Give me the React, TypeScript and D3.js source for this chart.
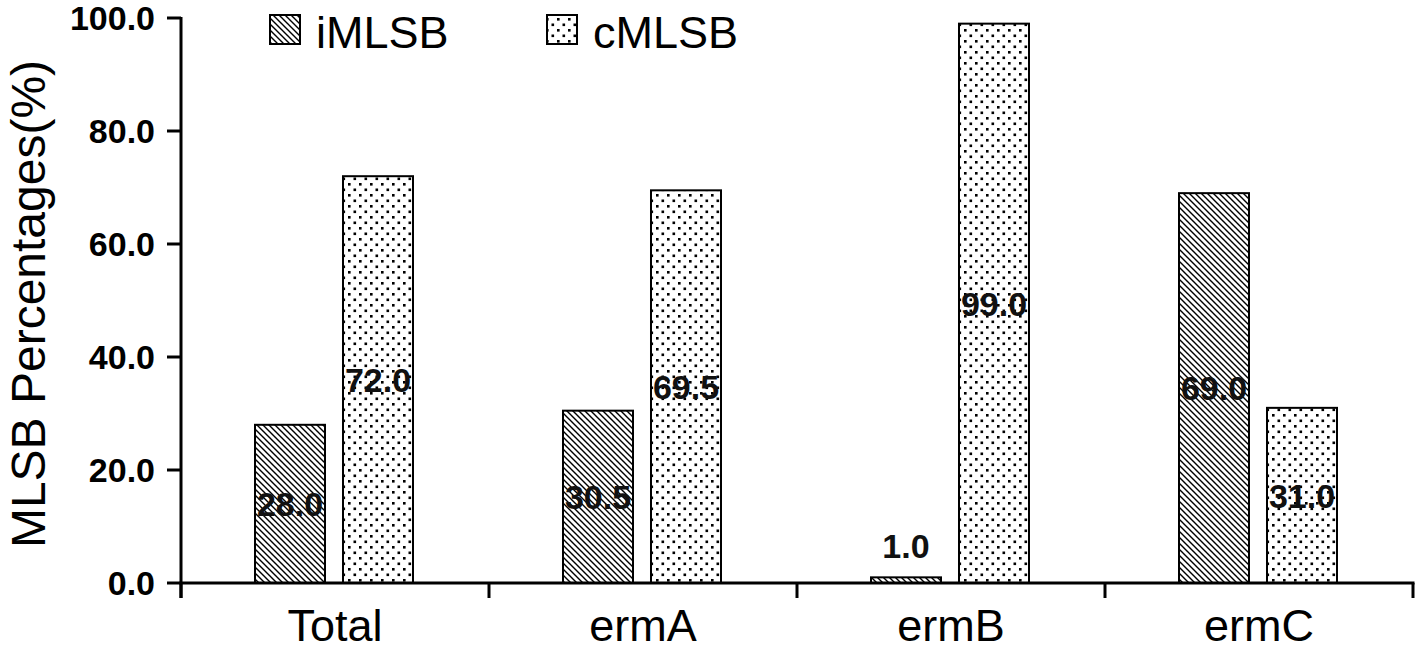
import React from "react";
import * as d3 from "d3";

const categories = ["Total", "ermA", "ermB", "ermC"];
const seriesNames = ["iMLSB", "cMLSB"];
const iMLSB = [28.0, 30.5, 1.0, 69.0];
const cMLSB = [72.0, 69.5, 99.0, 31.0];
const yTicks = [0, 20, 40, 60, 80, 100];

const W = 1418;
const H = 650;
const font = "'Liberation Sans', Arial, sans-serif";

const App = () => {
  const x = d3.scaleBand().domain(categories).range([181, 1413]).padding(0);
  const xs = d3
    .scaleBand()
    .domain(seriesNames)
    .range([74, 232])
    .paddingInner(0.2045)
    .paddingOuter(0);
  const y = d3.scaleLinear().domain([0, 100]).range([583, 18]);

  const rows = categories.map((c, i) => ({ cat: c, vals: [iMLSB[i], cMLSB[i]] }));
  const fills = ["url(#hatch)", "url(#dots)"];
  const fmt = d3.format(".1f");

  // tick marks under the x axis sit on the band edges
  const edges = categories.map((c) => x(c)!).concat([x.range()[1]]);

  return (
    <svg
      width={W}
      height={H}
      style={{ position: "absolute", left: 0, top: 0, background: "#fff" }}
      fontFamily={font}
    >
      <defs>
        <pattern id="hatch" patternUnits="userSpaceOnUse" width={6} height={6}>
          <rect width={6} height={6} fill="#fff" />
          <path d="M-1,-1 L7,7 M5,-1 L7,1 M-1,5 L1,7" stroke="#000" strokeWidth={1.4} />
        </pattern>
        <pattern id="dots" patternUnits="userSpaceOnUse" width={11} height={11}>
          <rect width={11} height={11} fill="#fff" />
          <rect x={1.5} y={1.5} width={2.6} height={2.6} fill="#000" />
          <rect x={7} y={7} width={2.6} height={2.6} fill="#000" />
        </pattern>
      </defs>

      {/* bars */}
      {rows.map((r) =>
        r.vals.map((v, j) => {
          const bx = x(r.cat)! + xs(seriesNames[j])!;
          const bw = xs.bandwidth();
          const top = y(v);
          const h = y(0) - top;
          const small = h < 30;
          return (
            <g key={r.cat + j}>
              <rect x={bx} y={top} width={bw} height={h} fill={fills[j]} stroke="#000" strokeWidth={2} />
              <text
                x={bx + bw / 2}
                y={small ? top - 32 : top + h / 2}
                dy="0.36em"
                textAnchor="middle"
                fontSize={34}
                fontWeight="bold"
                fill="#111"
              >
                {fmt(v)}
              </text>
            </g>
          );
        })
      )}

      {/* y axis */}
      <line x1={181} x2={181} y1={y(100) - 1} y2={598} stroke="#000" strokeWidth={3} />
      {yTicks.map((t) => (
        <g key={t}>
          <line x1={167} x2={181} y1={y(t)} y2={y(t)} stroke="#000" strokeWidth={3} />
          <text x={155} y={y(t)} dy="0.36em" textAnchor="end" fontSize={34} fontWeight="bold" fill="#000">
            {fmt(t)}
          </text>
        </g>
      ))}

      {/* x axis */}
      <line x1={179.5} x2={1414.5} y1={y(0)} y2={y(0)} stroke="#000" strokeWidth={3} />
      {edges.map((e, i) => (
        <line key={i} x1={e} x2={e} y1={y(0)} y2={598} stroke="#000" strokeWidth={3} />
      ))}
      {categories.map((c) => (
        <text key={c} x={x(c)! + x.bandwidth() / 2} y={641} textAnchor="middle" fontSize={45} fill="#000">
          {c}
        </text>
      ))}

      {/* axis title */}
      <text
        transform={`translate(45, ${(50 + 558) / 2}) rotate(-90)`}
        textAnchor="middle"
        fontSize={48}
        fill="#000"
      >
        MLSB Percentages(%)
      </text>

      {/* legend */}
      {seriesNames.map((s, j) => {
        const lx = [270, 547][j];
        return (
          <g key={s}>
            <rect x={lx} y={15} width={30} height={29} fill={fills[j]} stroke="#000" strokeWidth={2} />
            <text x={lx + 46} y={48} fontSize={45} fill="#000">
              {s}
            </text>
          </g>
        );
      })}
    </svg>
  );
};

export default App;
